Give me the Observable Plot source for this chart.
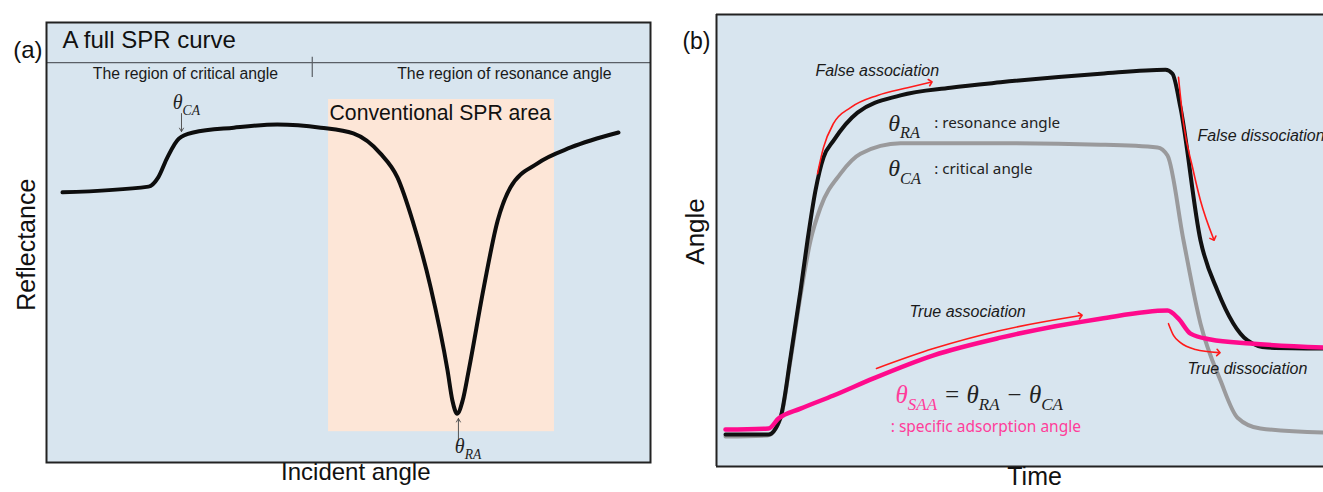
<!DOCTYPE html>
<html>
<head>
<meta charset="utf-8">
<script src="https://cdn.jsdelivr.net/npm/d3@7"></script>
<script src="https://cdn.jsdelivr.net/npm/@observablehq/plot@0.6"></script>
<style>
  html, body { margin: 0; padding: 0; background: #fff; overflow: hidden; }
  #wrap { position: relative; width: 1323px; height: 492px; }
  #pa { position: absolute; left: 0; top: 0; }
  #pb { position: absolute; left: 660px; top: 0; }
</style>
</head>
<body>
<div id="wrap"><div id="pa"></div><div id="pb"></div></div>
<script>
// ---------- Panel (a): full SPR curve (incident angle vs reflectance, arbitrary units 0-100) ----------
const aAngle = [2.65, 16.9, 18.5, 20.0, 21.9, 24.3, 31.0, 38.2, 45.4, 50.8, 55.3, 58.1, 60.6, 63.6, 66.4, 67.2, 68.0, 68.9, 69.9, 72.4, 74.7, 76.8, 81.3, 86.8, 94.7];
const aRefl  = [61.4, 62.7, 64.8, 69.3, 73.6, 75.0, 76.1, 76.8, 76.1, 74.8, 70.2, 64.8, 55.0, 39.8, 20.9, 14.1, 11.1, 14.1, 20.9, 39.8, 55.0, 62.5, 68.0, 71.6, 75.0];
const aSprArea = {x1: 46.7, x2: 84.1, y1: 7.0, y2: 82.5};       // conventional SPR area
const aHeaderY = 90.9;                                          // header divider
const aRegionDividerX = 44.0;
const aRegionLabels = ["The region of critical angle", "The region of resonance angle"];
const aRegionX = [23.0, 75.8];
const aRegionY = [88.2, 88.2];
const aThetaCA = {x: 22.35, yFrom: 79.3, yTo: 75.2, labelX: 20.9, labelY: 81.8};
const aThetaRA = {x: 68.2, yFrom: 5.0, yTo: 10.0, labelX: 67.6, labelY: 3.6};

// ---------- Panel (b): sensorgram (time vs angle, arbitrary units 0-100) ----------
const bRaTime  = [1.48, 8.57, 10.54, 12.19, 13.84, 14.99, 16.31, 17.63, 19.28, 23.23, 30.31, 38.55, 46.79, 63.26, 73.97, 75.12, 76.44, 79.74, 82.54, 87.48, 90.77, 100];
const bRaAngle = [7.08, 7.08, 10.84, 24.1, 38.9, 50.0, 61.1, 68.4, 72.1, 78.3, 82.1, 83.8, 85.0, 86.9, 87.8, 86.9, 79.4, 50.0, 38.9, 27.9, 26.3, 26.1];
const bCaTime  = [1.48, 8.40, 10.54, 12.19, 13.84, 15.49, 17.13, 20.43, 23.72, 30.31, 46.79, 63.26, 72.65, 74.3, 76.94, 79.74, 83.03, 85.83, 89.62, 100];
const bCaAngle = [6.64, 6.86, 10.6, 23.5, 37.8, 50.0, 57.3, 64.8, 69.2, 71.5, 71.5, 71.2, 70.6, 68.8, 50.0, 31.6, 19.0, 10.8, 8.4, 7.5];
const bSaaTime  = [1.48, 8.57, 10.21, 13.84, 19.28, 25.86, 35.75, 46.79, 63.26, 74.3, 76.11, 78.09, 81.38, 87.97, 100];
const bSaaAngle = [8.19, 8.41, 10.6, 12.8, 15.7, 19.5, 24.6, 28.5, 32.7, 34.5, 32.7, 29.4, 28.1, 27.2, 26.3];

const bArrowFalseAssocT = [16.64, 17.63, 19.28, 22.08, 26.52, 31.47, 35.26];
const bArrowFalseAssocA = [64.8, 70.6, 75.9, 79.4, 82.1, 83.8, 85.0];
const bArrowFalseDissT  = [76.11, 76.94, 78.42, 79.74, 81.88];
const bArrowFalseDissA  = [86.1, 75.9, 66.2, 58.8, 50.4];
const bArrowTrueAssocT  = [26.36, 35.75, 46.79, 59.97];
const bArrowTrueAssocA  = [21.7, 26.1, 30.1, 33.4];
const bArrowTrueDissT   = [74.46, 75.29, 76.44, 78.91, 82.70];
const bArrowTrueDissA   = [31.6, 29.0, 27.4, 25.9, 25.2];

const bPhaseLabels = ["False association", "False dissociation", "True association", "True dissociation"];
const bPhaseX = [16.3, 79.24, 31.8, 77.6];
const bPhaseY = [87.6, 73.2, 34.3, 21.7];

const bLegendSymbols = ["θ_{RA}", "θ_{CA}"];
const bLegendNames   = [": resonance angle", ": critical angle"];
const bLegendX = 28.3;
const bLegendY = [75.9, 65.9];
const bFormula = {x: 29.5, y: 15.9, text: "θ_{SAA} = θ_{RA} − θ_{CA}", note: ": specific adsorption angle", noteX: 28.7, noteY: 8.8};

// ---------- helpers ----------
const SANS = "'Liberation Sans', Arial, sans-serif";
const SERIF = "'Liberation Serif', 'DejaVu Serif', serif";
const KSANS = "'Noto Sans', 'Liberation Sans', sans-serif";
const BG = "#d8e5ef";
const PINK = "#ff0a8c";
const PINK_TEXT = "#ff3d9a";
const pts = (xs, ys) => xs.map((x, i) => ({x, y: ys[i]}));

// turn "θ_{CA}" into θ + subscript tspan; the θ_SAA term of the formula is pink
function applySubscripts(svg) {
  const ns = "http://www.w3.org/2000/svg";
  d3.select(svg).selectAll("text").each(function () {
    const t = this.textContent;
    if (!t.includes("_{")) return;
    const fs = parseFloat(getComputedStyle(this).fontSize);
    const off = fs * 0.3;
    const lead = t.startsWith("θ_{SAA}") ? PINK_TEXT : null;
    const parts = t.split(/(_\{[^}]*\})/).filter(p => p.length);
    this.textContent = "";
    let shifted = false;
    parts.forEach((p, k) => {
      const ts = document.createElementNS(ns, "tspan");
      if (p.startsWith("_{")) {
        ts.textContent = p.slice(2, -1);
        ts.setAttribute("font-size", (fs * 0.68).toFixed(1));
        ts.setAttribute("dy", off.toFixed(1));
        shifted = true;
      } else {
        ts.textContent = p;
        if (shifted) { ts.setAttribute("dy", (-off).toFixed(1)); shifted = false; }
      }
      if (lead && k < 2) ts.setAttribute("fill", lead);
      this.appendChild(ts);
    });
  });
}

// ---------- Panel (a) ----------
const plotA = Plot.plot({
  width: 660, height: 492,
  marginLeft: 46, marginRight: 10, marginTop: 22, marginBottom: 30,
  x: {domain: [0, 100], axis: null},
  y: {domain: [0, 100], axis: null},
  style: {fontFamily: SANS, background: "transparent", overflow: "visible"},
  marks: [
    Plot.frame({fill: BG, stroke: "none"}),
    Plot.rect([aSprArea], {x1: "x1", x2: "x2", y1: "y1", y2: "y2", fill: "#fde6d7"}),
    Plot.ruleY([aHeaderY], {stroke: "#5a5f66", strokeWidth: 1.2}),
    Plot.ruleX([aRegionDividerX], {y1: aRegionY[0] - 0.7, y2: aHeaderY + 1.2, stroke: "#5a5f66", strokeWidth: 1.2}),
    Plot.frame({stroke: "#222", strokeWidth: 2}),
    Plot.text(["A full SPR curve"], {x: 2.65, y: 95.9, textAnchor: "start", fontSize: 24, fill: "#111"}),
    Plot.text(aRegionLabels, {x: (d, i) => aRegionX[i], y: (d, i) => aRegionY[i], fontSize: 15.8, fill: "#1a1a1a"}),
    Plot.text(["Conventional SPR area"], {x: aSprArea.x1, y: 79.3, textAnchor: "start", dx: 1, fontSize: 21.2, fill: "#111"}),
    Plot.line(pts(aAngle, aRefl), {x: "x", y: "y", curve: "monotone-x", stroke: "#0d0d0d", strokeWidth: 4}),
    Plot.arrow([aThetaCA], {x: "x", y1: "yFrom", y2: "yTo", stroke: "#555", strokeWidth: 1, headLength: 6}),
    Plot.arrow([aThetaRA], {x: "x", y1: "yFrom", y2: "yTo", stroke: "#555", strokeWidth: 1, headLength: 6}),
    Plot.text(["θ_{CA}"], {x: aThetaCA.labelX, y: aThetaCA.labelY, textAnchor: "start", fontSize: 20, fontStyle: "italic", fontFamily: SERIF, fill: "#222"}),
    Plot.text(["θ_{RA}"], {x: aThetaRA.labelX, y: aThetaRA.labelY, textAnchor: "start", fontSize: 20, fontStyle: "italic", fontFamily: SERIF, fill: "#222"}),
    Plot.text(["(a)"], {frameAnchor: "top-left", textAnchor: "end", dx: -4, dy: 18, fontSize: 24, fill: "#111"}),
    Plot.text(["Incident angle"], {x: 51.2, frameAnchor: "bottom", textAnchor: "middle", dy: 17, fontSize: 24, fill: "#111"}),
    Plot.text(["Reflectance"], {y: 49.5, frameAnchor: "left", textAnchor: "middle", rotate: -90, dx: -20, fontSize: 25, fill: "#111"})
  ]
});

// ---------- Panel (b) ----------
const redArrow = {x: "x", y: "y", curve: "monotone-x", stroke: "#ff1a1a", strokeWidth: 1.6, markerEnd: "arrow"};
const plotB = Plot.plot({
  width: 663, height: 492,
  marginLeft: 56, marginRight: 0, marginTop: 14, marginBottom: 26,
  x: {domain: [0, 100], axis: null},
  y: {domain: [0, 100], axis: null},
  style: {fontFamily: SANS, background: "transparent", overflow: "visible"},
  marks: [
    Plot.frame({fill: BG, stroke: "none"}),
    Plot.ruleY([0, 100], {stroke: "#222", strokeWidth: 2}),
    Plot.ruleX([0], {stroke: "#222", strokeWidth: 2}),
    Plot.line(pts(bCaTime, bCaAngle), {x: "x", y: "y", curve: "monotone-x", stroke: "#9a9a9c", strokeWidth: 4}),
    Plot.line(pts(bRaTime, bRaAngle), {x: "x", y: "y", curve: "monotone-x", stroke: "#111", strokeWidth: 4}),
    Plot.line(pts(bSaaTime, bSaaAngle), {x: "x", y: "y", curve: "monotone-x", stroke: PINK, strokeWidth: 4.5}),
    Plot.line(pts(bArrowFalseAssocT, bArrowFalseAssocA), redArrow),
    Plot.line(pts(bArrowFalseDissT, bArrowFalseDissA), redArrow),
    Plot.line(pts(bArrowTrueAssocT, bArrowTrueAssocA), redArrow),
    Plot.line(pts(bArrowTrueDissT, bArrowTrueDissA), redArrow),
    Plot.text(bPhaseLabels, {x: (d, i) => bPhaseX[i], y: (d, i) => bPhaseY[i], textAnchor: "start", fontSize: 16, fontStyle: "italic", fill: "#1a1a1a"}),
    Plot.text(bLegendSymbols, {x: bLegendX, y: (d, i) => bLegendY[i], textAnchor: "start", fontSize: 24, fontStyle: "italic", fontFamily: SERIF, fill: "#222"}),
    Plot.text(bLegendNames, {x: bLegendX, y: (d, i) => bLegendY[i], textAnchor: "start", dx: 46, fontSize: 15.2, fontFamily: KSANS, fill: "#222"}),
    Plot.text([bFormula.text], {x: bFormula.x, y: bFormula.y, textAnchor: "start", fontSize: 25, fontStyle: "italic", fontFamily: SERIF, fill: "#222"}),
    Plot.text([bFormula.note], {x: bFormula.noteX, y: bFormula.noteY, textAnchor: "start", fontSize: 15.5, fontFamily: KSANS, fill: PINK_TEXT}),
    Plot.text(["(b)"], {frameAnchor: "top-left", textAnchor: "end", dx: -6, dy: 18, fontSize: 23, fill: "#111"}),
    Plot.text(["Time"], {x: 52.4, frameAnchor: "bottom", textAnchor: "middle", dy: 18, fontSize: 25, fill: "#111"}),
    Plot.text(["Angle"], {y: 52.0, frameAnchor: "left", textAnchor: "middle", rotate: -90, dx: -21, fontSize: 26, fill: "#111"})
  ]
});

document.getElementById("pa").append(plotA);
document.getElementById("pb").append(plotB);
applySubscripts(plotA);
applySubscripts(plotB);
</script>
</body>
</html>
